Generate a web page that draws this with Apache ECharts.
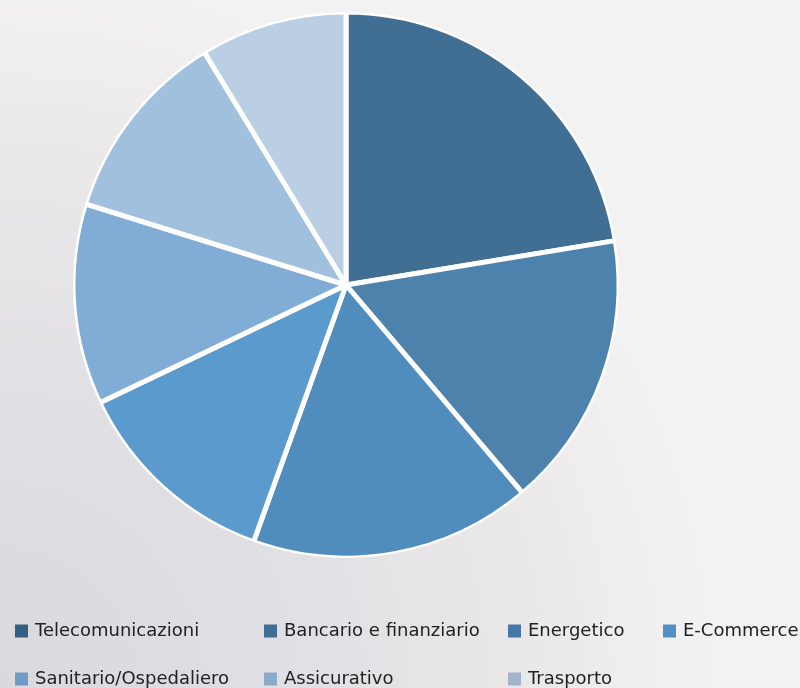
<!DOCTYPE html>
<html>
<head>
<meta charset="utf-8">
<script src="https://cdn.jsdelivr.net/npm/echarts@6/dist/echarts.min.js"></script>
<style>
html,body{margin:0;padding:0;background:#e8e7e8;}
#main{width:800px;height:688px;}
</style>
</head>
<body>
<div id="main"></div>
<script>
const categories = ['Telecomunicazioni','Bancario e finanziario','Energetico','E-Commerce','Sanitario/Ospedaliero','Assicurativo','Trasporto'];
const values = [22.4, 16.4, 16.7, 12.4, 11.9, 11.5, 8.7];
const sliceColors = ['#416f94','#4c82ac','#508dbd','#5a9acd','#80acd6','#a0c0dd','#bbcfe4'];
const legendColors = ['#355f82','#3f6f94','#4577a6','#5290c4','#6f9bc6','#8aaac9','#a2b5cc'];

const chart = echarts.init(document.getElementById('main'), null, {renderer:'canvas'});

function bgGradient() {
  return new echarts.graphic.RadialGradient(0, 688, 720, [
    {offset: 0, color: '#d9d9de'},
    {offset: 0.45, color: '#e1e0e4'},
    {offset: 0.75, color: '#ebe8e9'},
    {offset: 1, color: '#f3f2f2'}
  ], true);
}

const pieCenter = [346, 285];
const pieRadius = 273;
const gapWidth = 5;

const legendPos = [[15,622],[264,622],[508,622],[663,622],[15,670],[264,670],[508,670]];
const legends = categories.map((n, i) => ({
  left: legendPos[i][0],
  top: legendPos[i][1],
  padding: 0,
  itemWidth: 13,
  itemHeight: 13,
  itemGap: 6,
  icon: 'rect',
  selectedMode: false,
  itemStyle: {borderWidth: 0},
  textStyle: {fontFamily: 'DejaVu Sans', fontSize: 18, color: '#222222', padding: [0,0,0,2]},
  data: [{name: n, itemStyle: {color: legendColors[i], borderWidth: 0}}]
}));

chart.setOption({
  backgroundColor: bgGradient(),
  animation: false,
  legend: legends,
  graphic: [{
    type: 'circle',
    z: 100,
    silent: true,
    shape: {cx: pieCenter[0], cy: pieCenter[1], r: pieRadius + gapWidth / 2},
    style: {fill: null, stroke: bgGradient(), lineWidth: gapWidth}
  }],
  series: [{
    type: 'pie',
    center: pieCenter,
    radius: [0, pieRadius],
    startAngle: 90,
    clockwise: true,
    label: {show: false},
    labelLine: {show: false},
    itemStyle: {borderColor: '#ffffff', borderWidth: gapWidth},
    emphasis: {disabled: true},
    data: categories.map((n, i) => ({name: n, value: values[i], itemStyle: {color: sliceColors[i]}}))
  }]
});
</script>
</body>
</html>
